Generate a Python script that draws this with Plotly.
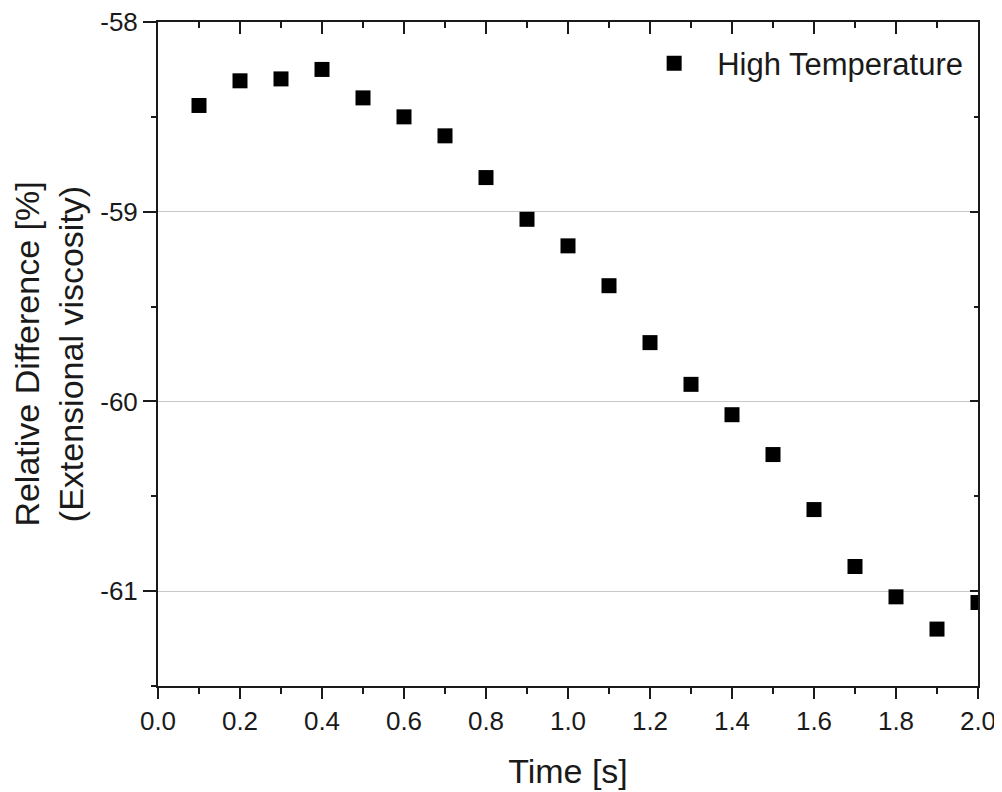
import plotly.graph_objects as go

time_s = [0.1, 0.2, 0.3, 0.4, 0.5, 0.6, 0.7, 0.8, 0.9, 1.0,
          1.1, 1.2, 1.3, 1.4, 1.5, 1.6, 1.7, 1.8, 1.9, 2.0]
rel_diff = [-58.44, -58.31, -58.30, -58.25, -58.40, -58.50, -58.60, -58.82, -59.04, -59.18,
            -59.39, -59.69, -59.91, -60.07, -60.28, -60.57, -60.87, -61.03, -61.20, -61.06]
series_name = "High Temperature"
y_ticks = [-61, -60, -59, -58]
y_ticklabels = ["-61", "-60", "-59", "-58"]

font = "Liberation Sans, Arial, sans-serif"
ink = "#1a1a1a"

fig = go.Figure()
fig.add_trace(go.Scatter(
    x=time_s, y=rel_diff, mode="markers", name=series_name,
    marker=dict(symbol="square", size=15, color="black"),
    cliponaxis=True,
))
# invisible trace to carry the mirrored top/right axes
fig.add_trace(go.Scatter(x=[0, 2], y=[-58, -61.5], xaxis="x2", yaxis="y2",
                         mode="markers", marker=dict(opacity=0),
                         showlegend=False, hoverinfo="skip"))

axis_common = dict(tickwidth=2, tickcolor=ink, showline=True, linewidth=2,
                   linecolor=ink, zeroline=False, automargin=False)

# page body adds ~8px offset, margins compensate for it
fig.update_layout(
    width=1002, height=792,
    margin=dict(l=150, r=32, t=14, b=114),
    paper_bgcolor="white", plot_bgcolor="white",
    font=dict(family=font, size=26, color=ink),
    showlegend=True,
    legend=dict(x=0.988, y=0.978, xanchor="right", yanchor="top",
                bgcolor="rgba(0,0,0,0)", font=dict(size=31),
                itemsizing="trace", itemwidth=76),
    xaxis=dict(
        range=[0, 2.0], dtick=0.2, tick0=0, tickformat=".1f",
        ticks="outside", ticklen=11, showgrid=False,
        tickfont=dict(size=26), ticklabeloverflow="allow",
        minor=dict(dtick=0.1, ticks="outside", ticklen=6, tickwidth=2, tickcolor=ink),
        title=dict(text="Time [s]", font=dict(size=34), standoff=24),
        **axis_common,
    ),
    yaxis=dict(
        range=[-61.5, -58], tickvals=y_ticks, ticktext=y_ticklabels,
        ticks="outside", ticklen=13,
        showgrid=True, gridcolor="#c8c8c8", gridwidth=1,
        tickfont=dict(size=26), ticklabeloverflow="allow",
        minor=dict(dtick=0.5, tick0=-58, ticks="outside", ticklen=5, tickwidth=2,
                   tickcolor=ink, showgrid=False),
        title=dict(text="Relative Difference [%]<br>(Extensional viscosity)",
                   font=dict(size=34), standoff=8),
        **axis_common,
    ),
    xaxis2=dict(
        overlaying="x", side="top", matches="x", range=[0, 2.0], dtick=0.2, tick0=0,
        ticks="inside", ticklen=12, showticklabels=False, showgrid=False,
        minor=dict(dtick=0.1, ticks="inside", ticklen=6, tickwidth=2, tickcolor=ink),
        **axis_common,
    ),
    yaxis2=dict(
        overlaying="y", side="right", anchor="x2", range=[-61.5, -58], dtick=1, tick0=-58,
        ticks="inside", ticklen=8, showticklabels=False, showgrid=False,
        minor=dict(dtick=0.5, ticks="inside", ticklen=4, tickwidth=2, tickcolor=ink),
        **axis_common,
    ),
)

fig.write_html("out.html")
